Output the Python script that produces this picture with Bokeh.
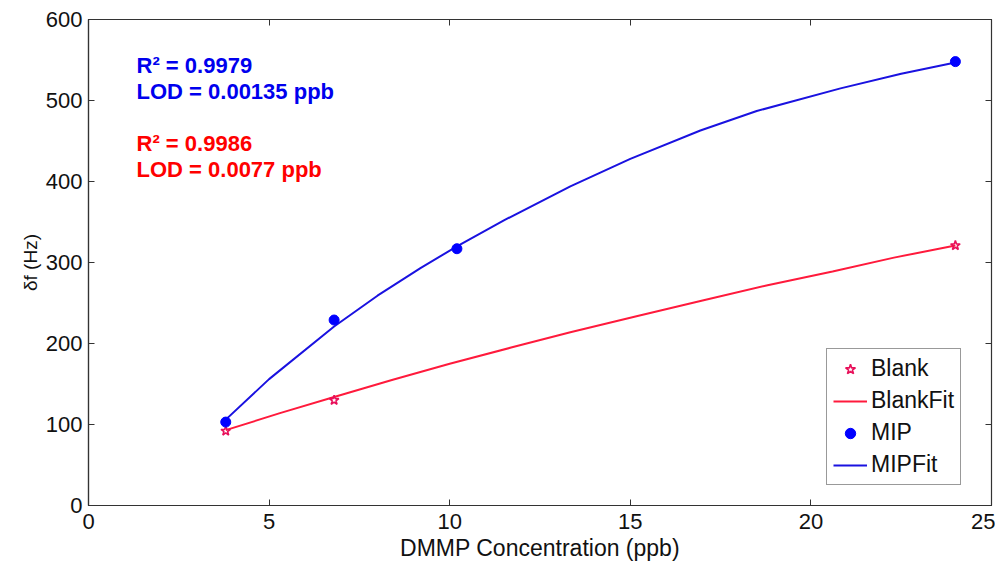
from bokeh.plotting import figure
from bokeh.models import LinearAxis, FixedTicker, Range1d, Legend, LegendItem, Label
from bokeh.embed import file_html
from bokeh.resources import INLINE

# ---- data ----
blank_x = [3.8, 6.8, 24.0]
blank_y = [92, 130, 321]

mip_x = [3.8, 6.8, 10.2, 24.0]
mip_y = [103, 229, 317, 548]

blankfit_x = [3.8, 5.3, 6.8, 8.4, 10.0, 11.7, 13.34, 15.2, 17.0, 18.8, 20.6, 22.3, 24.0]
blankfit_y = [93, 114, 134, 155, 175, 195, 214, 234, 253, 272, 289, 306, 321]

mipfit_x = [3.8, 5.0, 6.8, 8.0, 9.19, 10.2, 11.5, 13.34, 15.0, 16.94, 18.5, 20.82, 22.5, 24.0]
mipfit_y = [106, 156, 221, 259, 293, 320, 352, 394, 428, 463, 487, 515, 533, 547]

x_ticks = [0, 5, 10, 15, 20, 25]
y_ticks = [0, 100, 200, 300, 400, 500, 600]

notes = [
    ("R\u00b2 = 0.9979", 543, "#0000ee"),
    ("LOD = 0.00135 ppb", 511, "#0000ee"),
    ("R\u00b2 = 0.9986", 447, "#ff0000"),
    ("LOD = 0.0077 ppb", 415, "#ff0000"),
]

FONT = "Liberation Sans"

p = figure(
    frame_width=903, frame_height=486,
    min_border_left=88, min_border_top=19, min_border_right=4, min_border_bottom=4,
    x_range=Range1d(0, 25), y_range=Range1d(0, 600),
    output_backend="svg", toolbar_location=None,
    background_fill_color="white", border_fill_color="white",
)
p.outline_line_color = "#333333"
p.outline_line_width = 1.2
p.xgrid.visible = False
p.ygrid.visible = False

for ax, ticks in ((p.xaxis[0], x_ticks), (p.yaxis[0], y_ticks)):
    ax.ticker = FixedTicker(ticks=ticks)
    ax.major_tick_in = 6
    ax.major_tick_out = 0
    ax.minor_tick_line_color = None
    ax.axis_line_color = "#333333"
    ax.axis_line_width = 1.2
    ax.major_tick_line_color = "#333333"
    ax.major_label_text_font = FONT
    ax.major_label_text_font_size = "22px"
    ax.major_label_text_color = "#111111"
    ax.axis_label_text_font = FONT
    ax.axis_label_text_font_style = "normal"
    ax.axis_label_text_color = "#111111"

p.xaxis[0].axis_label = "DMMP Concentration (ppb)"
p.xaxis[0].axis_label_text_font_size = "23px"
p.xaxis[0].major_label_standoff = 8
p.xaxis[0].axis_label_standoff = 3
p.yaxis[0].axis_label = "\u03b4f (Hz)"
p.yaxis[0].axis_label_text_font_size = "19px"
p.yaxis[0].major_label_standoff = 6
p.yaxis[0].axis_label_standoff = 2

for loc, ticks in (("right", y_ticks), ("above", x_ticks)):
    ax = LinearAxis(ticker=FixedTicker(ticks=ticks), major_tick_in=6, major_tick_out=0,
                    minor_tick_line_color=None, axis_line_color="#333333",
                    major_tick_line_color="#333333", major_label_text_color=None,
                    major_label_text_font_size="1px", major_label_standoff=0)
    p.add_layout(ax, loc)

r_bfit = p.line(blankfit_x, blankfit_y, line_color="#ff1a3c", line_width=2)
r_mfit = p.line(mipfit_x, mipfit_y, line_color="#1a12e0", line_width=2)
r_blank = p.scatter(blank_x, blank_y, marker="star", size=10, line_color="#e8105a",
                    fill_color=None, line_width=1.6)
r_mip = p.scatter(mip_x, mip_y, marker="circle", size=10, line_color="#0000ff",
                  fill_color="#0000ff")

for txt, yv, col in notes:
    p.add_layout(Label(x=1.33, y=yv, text=txt, text_color=col, text_font=FONT,
                       text_font_size="22px", text_font_style="bold",
                       text_baseline="middle", text_align="left"))

legend = Legend(items=[
    LegendItem(label="Blank", renderers=[r_blank]),
    LegendItem(label="BlankFit", renderers=[r_bfit]),
    LegendItem(label="MIP", renderers=[r_mip]),
    LegendItem(label="MIPFit", renderers=[r_mfit]),
], location=(738, 20))
legend.label_text_font = FONT
legend.label_text_font_size = "23px"
legend.label_text_color = "#111111"
legend.label_height = 26
legend.glyph_height = 26
legend.glyph_width = 34
legend.spacing = 5
legend.padding = 6
legend.margin = 0
legend.label_standoff = 4
legend.border_line_color = "#333333"
legend.border_line_width = 1.2
legend.background_fill_color = "white"
legend.background_fill_alpha = 1.0
p.add_layout(legend)

open("out.html", "w").write(file_html(p, INLINE))
